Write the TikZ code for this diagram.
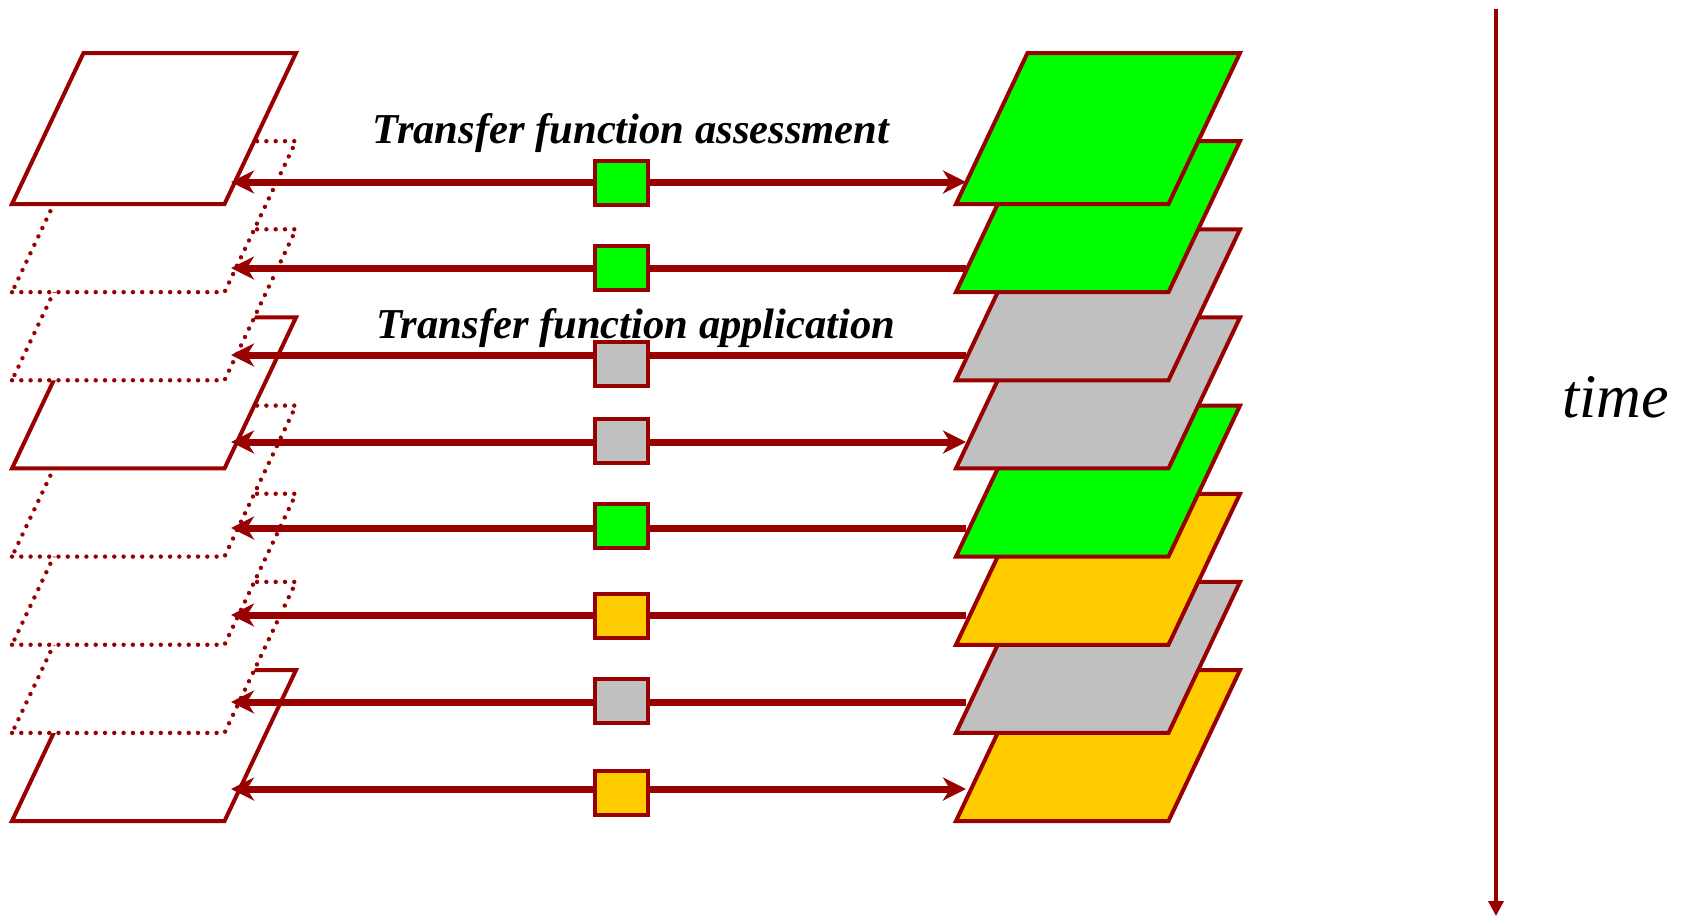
\documentclass[tikz,border=0pt]{standalone}
\usepackage{fontspec}
\setmainfont{Liberation Serif}
\usetikzlibrary{arrows.meta}
\definecolor{bordeaux}{HTML}{990000}
\definecolor{layergreen}{HTML}{00FF00}
\definecolor{layergray}{HTML}{C0C0C0}
\definecolor{layergold}{HTML}{FFCC00}
\begin{document}
\begin{tikzpicture}[x=0.5pt,y=-0.5pt,
  layer/.style={draw=bordeaux, line width=2pt, line join=miter},
  hidden/.style={layer, line cap=round, line width=2.2pt, dash pattern=on 0pt off 4.65pt},
  link/.style={draw=bordeaux, line width=3.5pt},
  oneway/.style={{Stealth[length=11.5pt,width=11.5pt,inset=3.5pt]}-},
  twoway/.style={{Stealth[length=11.5pt,width=11.5pt,inset=3.5pt]}-{Stealth[length=11.5pt,width=11.5pt,inset=3.5pt]}},
  marker/.style={draw=bordeaux, line width=2pt, minimum width=26.5pt, minimum height=22pt, inner sep=0pt},
  caption/.style={font=\fontsize{21.3}{25}\selectfont\bfseries\itshape, inner sep=0pt, anchor=base},
  axislabel/.style={font=\fontsize{31}{36}\selectfont\itshape, inner sep=0pt, anchor=base west}
]
\useasboundingbox (0,0) rectangle (1694,916);

% left stack: stored frames (solid) and skipped frames (dotted), back to front
\foreach \k/\s in {7/layer,6/hidden,5/hidden,4/hidden,3/layer,2/hidden,1/hidden,0/layer}
  \filldraw[\s, fill=white] (12,204+88.15*\k) -- ++(212.5,0) -- ++(71.5,-151) -- ++(-212.5,0) -- cycle;

% right stack: coloured frames, back to front
\foreach \k/\c in {7/layergold,6/layergray,5/layergold,4/layergreen,3/layergray,2/layergray,1/layergreen,0/layergreen}
  \filldraw[layer, fill=\c] (956,204+88.15*\k) -- ++(212.5,0) -- ++(71.5,-151) -- ++(-212.5,0) -- cycle;

% links between the stacks, each with its transfer-function marker
\foreach \i/\y/\sy/\c/\kind in {
    1/182/183/layergreen/twoway,
    2/268/268/layergreen/oneway,
    3/355/364/layergray/oneway,
    4/442/441/layergray/twoway,
    5/528/526/layergreen/oneway,
    6/615/616/layergold/oneway,
    7/702/701/layergray/oneway,
    8/789/793/layergold/twoway} {
  \coordinate (L\i) at (231,\y);
  \coordinate (R\i) at (966,\y);
  \draw[link,\kind] (L\i) -- (R\i);
  \node[marker, fill=\c] (S\i) at (621.5,\sy) {};
}

% captions
\node[caption] (assess) at (631,143) {Transfer function assessment};
\node[caption] (apply) at (636,338) {Transfer function application};

% time axis
\coordinate (t0) at (1496,9);
\coordinate (t1) at (1496,916);
\draw[bordeaux, line width=2pt, -{Triangle[length=7.5pt,width=7.5pt]}] (t0) -- (t1);
\node[axislabel] (timelabel) at (1562,417) {time};
\end{tikzpicture}
\end{document}
